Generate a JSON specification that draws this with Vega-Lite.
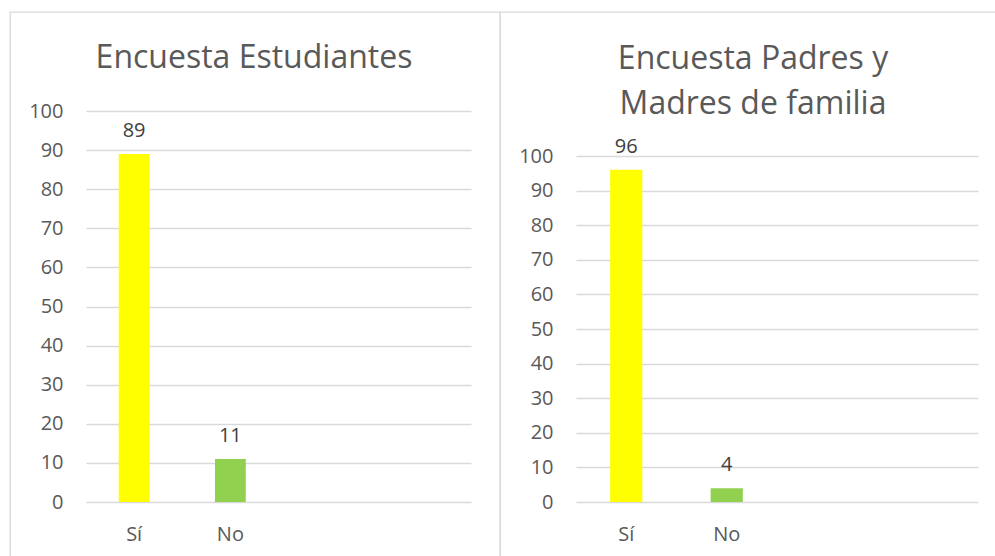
{
  "$schema": "https://vega.github.io/schema/vega-lite/v6.json",
  "autosize": {"type": "pad"},
  "padding": {"left": 9, "top": 11, "right": 0, "bottom": 0},
  "background": "white",
  "bounds": "flush",
  "spacing": 0,
  "datasets": {
    "estudiantes": [
      {"respuesta": "Sí", "valor": 89},
      {"respuesta": "No", "valor": 11}
    ],
    "padres": [
      {"respuesta": "Sí", "valor": 96},
      {"respuesta": "No", "valor": 4}
    ]
  },
  "hconcat": [
    {
      "width": 490,
      "height": 549,
      "data": {"name": "estudiantes"},
      "title": {"text": "Encuesta Estudiantes", "offset": -63, "dx": -1},
      "encoding": {
        "x": {
          "field": "respuesta", "type": "nominal", "sort": null,
          "scale": {"domain": ["Sí", "No", " ", "  "], "range": [76, 461], "paddingInner": 0.68, "paddingOuter": 0.34},
          "axis": {"orient": "bottom", "offset": -59, "labelAngle": 0, "labelBaseline": "alphabetic", "labelPadding": 38, "ticks": false, "tickSize": 0, "domain": false, "title": null}
        },
        "y": {
          "field": "valor", "type": "quantitative",
          "scale": {"domain": [0, 100], "range": [490, 99], "nice": false},
          "axis": {"offset": -76, "values": [0, 10, 20, 30, 40, 50, 60, 70, 80, 90, 100], "labelPadding": 23, "ticks": false, "tickSize": 0, "domain": false, "grid": true, "title": null}
        }
      },
      "layer": [
        {
          "mark": {"type": "bar"},
          "encoding": {
            "color": {"field": "respuesta", "type": "nominal", "scale": {"domain": ["Sí", "No"], "range": ["#FFFF00", "#92D050"]}, "legend": null}
          }
        },
        {
          "mark": {"type": "text", "baseline": "alphabetic", "dy": -17, "fontSize": 20, "color": "#404040"},
          "encoding": {"text": {"field": "valor", "type": "quantitative"}}
        }
      ]
    },
    {
      "width": 506,
      "height": 549,
      "data": {"name": "padres"},
      "title": {"text": ["Encuesta Padres y", "Madres de familia"], "offset": -109, "dx": 0, "lineHeight": 45},
      "encoding": {
        "x": {
          "field": "respuesta", "type": "nominal", "sort": null,
          "scale": {"domain": ["Sí", "No", " ", "  "], "range": [76, 478], "paddingInner": 0.68, "paddingOuter": 0.34},
          "axis": {"orient": "bottom", "offset": -59, "labelAngle": 0, "labelBaseline": "alphabetic", "labelPadding": 38, "ticks": false, "tickSize": 0, "domain": false, "title": null}
        },
        "y": {
          "field": "valor", "type": "quantitative",
          "scale": {"domain": [0, 100], "range": [490, 144], "nice": false},
          "axis": {"offset": -76, "values": [0, 10, 20, 30, 40, 50, 60, 70, 80, 90, 100], "labelPadding": 23, "ticks": false, "tickSize": 0, "domain": false, "grid": true, "title": null}
        }
      },
      "layer": [
        {
          "mark": {"type": "bar"},
          "encoding": {
            "color": {"field": "respuesta", "type": "nominal", "scale": {"domain": ["Sí", "No"], "range": ["#FFFF00", "#92D050"]}, "legend": null}
          }
        },
        {
          "mark": {"type": "text", "baseline": "alphabetic", "dy": -17, "fontSize": 20, "color": "#404040"},
          "encoding": {"text": {"field": "valor", "type": "quantitative"}}
        }
      ]
    }
  ],
  "resolve": {"scale": {"x": "independent", "y": "independent", "color": "independent"}},
  "config": {
    "font": "Open Sans",
    "view": {"stroke": "#D9D9D9", "strokeWidth": 1.3},
    "title": {"fontSize": 32, "fontWeight": "normal", "color": "#595959", "anchor": "middle", "frame": "group", "font": "Open Sans"},
    "axis": {"labelFontSize": 20, "labelColor": "#595959", "labelFont": "Open Sans", "gridColor": "#D9D9D9", "gridWidth": 1.3}
  }
}
